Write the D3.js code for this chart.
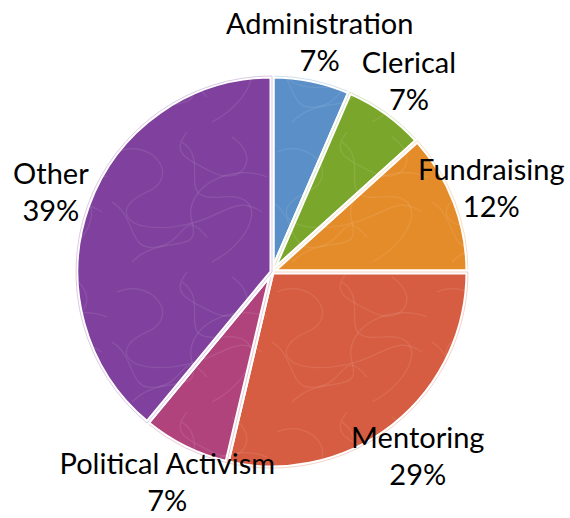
<!DOCTYPE html>
<html>
<head>
<meta charset="utf-8">
<script src="https://cdn.jsdelivr.net/npm/d3@7"></script>
<style>
  html, body { margin: 0; padding: 0; background: #fff; }
  svg { display: block; }
  text { font-family: Lato, "Open Sans", sans-serif; fill: #000; }
</style>
</head>
<body>
<svg id="chart" width="570" height="518"></svg>
<script>
// Volunteer time by activity (share of total, %)
const categories = ["Administration", "Clerical", "Fundraising", "Mentoring", "Political Activism", "Other"];
const shares = [6.5, 6.8, 11.7, 28.7, 7.3, 39.0];
const colors = ["#5a8fc7", "#7ba62c", "#e48c2a", "#d65d42", "#b0437b", "#7f419d"];

const width = 570, height = 518;
const cx = 272, cy = 272, R = 196;

const svg = d3.select("#chart");

// faint scribble texture laid over every slice
const defs = svg.append("defs");
const pat = defs.append("pattern")
  .attr("id", "scribble")
  .attr("patternUnits", "userSpaceOnUse")
  .attr("width", 160).attr("height", 140);
const scribbles = [
  "M5,20 C40,5 70,45 35,60 S10,100 60,95 S120,60 150,80",
  "M20,130 C50,100 90,125 80,90 S120,30 155,45",
  "M70,10 C100,30 60,70 110,65 S140,110 100,130",
  "M0,70 C25,85 15,120 45,115 S70,75 95,105",
  "M120,5 C150,25 130,55 100,40 S60,20 75,0"
];
pat.selectAll("path").data(scribbles).join("path")
  .attr("d", d => d)
  .attr("fill", "none")
  .attr("stroke", "#fff")
  .attr("stroke-opacity", 0.09)
  .attr("stroke-width", 1.2);

const g = svg.append("g").attr("transform", `translate(${cx},${cy})`);

const pie = d3.pie().value(d => d).sort(null);
const arcs = pie(shares);
const total = d3.sum(shares);

const arc = d3.arc().innerRadius(0).outerRadius(R);

const slices = g.selectAll("g.slice").data(arcs).join("g").attr("class", "slice");

slices.append("path")
  .attr("d", arc)
  .attr("fill", (d, i) => colors[i])
  .attr("stroke", "#fff")
  .attr("stroke-width", 5)
  .attr("stroke-linejoin", "round");

slices.append("path")
  .attr("d", arc)
  .attr("fill", "url(#scribble)");

slices.append("path")
  .attr("d", arc)
  .attr("fill", "none")
  .attr("stroke", (d, i) => d3.interpolateRgb(colors[i], "#fff")(0.72))
  .attr("stroke-width", 1);

// labels: category name over rounded percentage, block centred outside each slice
const labelR = R + 39, lineGap = 37, fontSize = 29;
const labels = g.selectAll("text.label").data(arcs).join("text")
  .attr("class", "label")
  .attr("text-anchor", "middle")
  .attr("font-size", fontSize)
  .attr("transform", d => {
    const a = (d.startAngle + d.endAngle) / 2;
    return `translate(${labelR * Math.sin(a)},${-labelR * Math.cos(a)})`;
  });

labels.append("tspan")
  .attr("x", 0).attr("y", -lineGap / 2 + fontSize * 0.36)
  .text((d, i) => categories[i]);
labels.append("tspan")
  .attr("x", 0).attr("y", lineGap / 2 + fontSize * 0.36)
  .text(d => Math.round(d.data / total * 100) + "%");
</script>
</body>
</html>
